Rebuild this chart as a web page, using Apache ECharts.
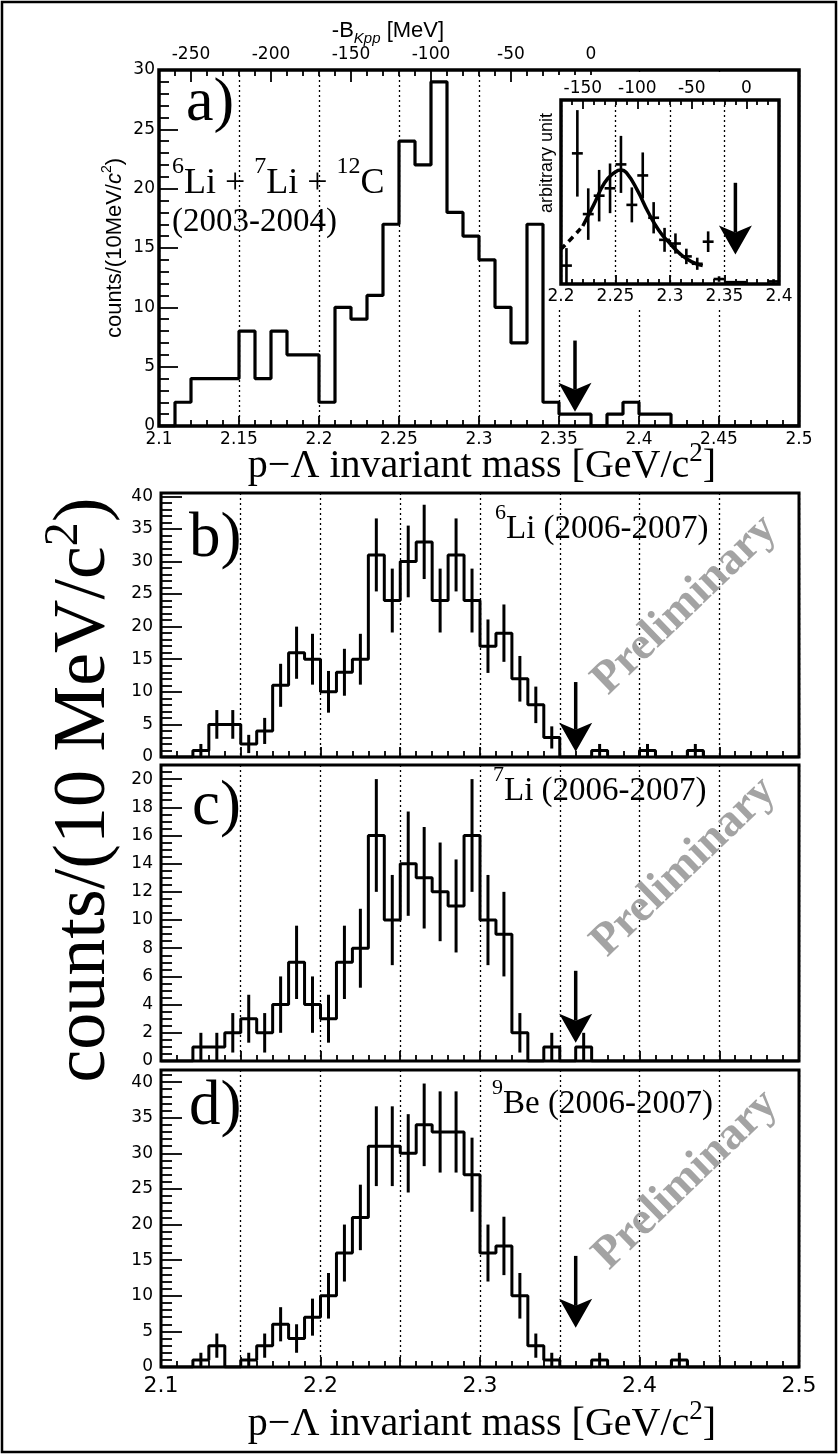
<!DOCTYPE html>
<html>
<head>
<meta charset="utf-8">
<script src="https://cdn.jsdelivr.net/npm/echarts@6/dist/echarts.min.js"></script>
<style>
  html, body { margin: 0; padding: 0; background: #fff; }
  #main { width: 838px; height: 1454px; }
</style>
</head>
<body>
<div id="main"></div>
<script>
// ---------------------------------------------------------------------------
// p-Lambda invariant mass spectra, 10 MeV/c^2 bins from 2.10 to 2.50 GeV/c^2
// ---------------------------------------------------------------------------
const massBins = [2.10, 2.11, 2.12, 2.13, 2.14, 2.15, 2.16, 2.17, 2.18, 2.19,
                  2.20, 2.21, 2.22, 2.23, 2.24, 2.25, 2.26, 2.27, 2.28, 2.29,
                  2.30, 2.31, 2.32, 2.33, 2.34, 2.35, 2.36, 2.37, 2.38, 2.39,
                  2.40, 2.41, 2.42, 2.43, 2.44, 2.45, 2.46, 2.47, 2.48, 2.49];
const BIN_WIDTH = 0.01;
const MASS_MAX = 2.50;
const K_PP_THRESHOLD = 2.370; // m(K-) + 2 m(p), GeV/c^2

// a) 6Li + 7Li + 12C (2003-2004)
const countsA = [0, 2, 4, 4, 4, 8, 4, 8, 6, 6,
                 2, 10, 9, 11, 17, 24, 22, 29, 18, 16,
                 14, 10, 7, 17, 2, 1, 1, 0, 1, 2,
                 1, 1, 0, 0, 0, 0, 0, 0, 0, 0];

// b) 6Li (2006-2007)
const countsB = [0, 0, 1, 5, 5, 2, 4, 11, 16, 15,
                 10, 13, 15, 31, 24, 30, 33, 24, 31, 24,
                 17, 19, 12, 8, 3, 0, 0, 1, 0, 0,
                 1, 0, 0, 1, 0, 0, 0, 0, 0, 0];
const errorsB = [0, 0, 1, 2.2, 2.2, 1.4, 2, 3.3, 4, 3.9,
                 3.2, 3.6, 3.9, 5.6, 4.9, 5.5, 5.7, 4.9, 5.6, 4.9,
                 4.1, 4.4, 3.5, 2.8, 1.7, 0, 0, 1, 0, 0,
                 1, 0, 0, 1, 0, 0, 0, 0, 0, 0];

// c) 7Li (2006-2007)
const countsC = [0, 0, 1, 1, 2, 3, 2, 4, 7, 4,
                 3, 7, 8, 16, 10, 14, 13, 12, 11, 16,
                 10, 9, 2, 0, 1, 0, 1, 0, 0, 0,
                 0, 0, 0, 0, 0, 0, 0, 0, 0, 0];
const errorsC = [0, 0, 1, 1, 1.4, 1.7, 1.4, 2, 2.6, 2,
                 1.7, 2.6, 2.8, 4, 3.2, 3.7, 3.6, 3.5, 3.3, 4,
                 3.2, 3, 1.4, 0, 1, 0, 1, 0, 0, 0,
                 0, 0, 0, 0, 0, 0, 0, 0, 0, 0];

// d) 9Be (2006-2007)
const countsD = [0, 0, 1, 3, 0, 1, 3, 6, 4, 7,
                 10, 16, 21, 31, 31, 30, 34, 33, 33, 27,
                 16, 17, 10, 3, 1, 0, 0, 1, 0, 0,
                 0, 0, 1, 0, 0, 0, 0, 0, 0, 0];
const errorsD = [0, 0, 1, 1.7, 0, 1, 1.7, 2.4, 2, 2.6,
                 3.2, 4, 4.6, 5.6, 5.6, 5.5, 5.8, 5.7, 5.7, 5.2,
                 4, 4.1, 3.2, 1.7, 1, 0, 0, 1, 0, 0,
                 0, 0, 1, 0, 0, 0, 0, 0, 0, 0];

// inset: acceptance-corrected spectrum (arbitrary unit) with fitted peak
const insetMass  = [2.205, 2.215, 2.225, 2.235, 2.245, 2.255, 2.265, 2.275, 2.285,
                    2.295, 2.305, 2.315, 2.325, 2.335, 2.345, 2.355, 2.365, 2.395];
const insetValue = [1.0, 7.1, 3.8, 4.8, 5.2, 6.5, 4.3, 5.9, 3.6,
                    2.4, 2.2, 1.5, 1.1, 2.3, 0.27, 0.1, 0.1, 0.14];
const insetError = [0.95, 2.35, 1.4, 1.4, 1.35, 1.55, 0.95, 1.25, 0.85,
                    0.65, 0.55, 0.42, 0.33, 0.56, 0.15, 0.06, 0.06, 0.12];
const fitMass      = [2.22, 2.23, 2.24, 2.25, 2.255, 2.26, 2.27, 2.28, 2.29, 2.30, 2.31, 2.32, 2.33];
const fitValue     = [3.15, 4.3, 5.5, 6.1, 6.2, 6.05, 5.1, 3.9, 2.9, 2.2, 1.6, 1.2, 1.0];
const fitExtMass   = [2.20, 2.21, 2.22];
const fitExtValue  = [1.9, 2.5, 3.15];

// K-pp binding threshold markers: [mass, arrow top, arrow tip]
const arrowA     = [2.36, 7.2, 1.2];
const arrowInset = [2.36, 5.5, 1.6];
const arrowB     = [2.36, 11.5, 0.8];
const arrowC     = [2.36, 6.4, 1.3];
const arrowD     = [2.36, 15.6, 5.5];

// tick labels
const yTicksA = [0, 5, 10, 15, 20, 25, 30];
const yTicksB = [0, 5, 10, 15, 20, 25, 30, 35, 40];
const yTicksC = [0, 2, 4, 6, 8, 10, 12, 14, 16, 18, 20];
const yTicksD = [0, 5, 10, 15, 20, 25, 30, 35, 40];
const topTicksMeV   = [-250, -200, -150, -100, -50, 0];
const insetTicksMeV = [-150, -100, -50, 0];

// ---------------------------------------------------------------------------
const INK = '#000';
const SERIF = '"Liberation Serif", "Times New Roman", serif';
const SANS = '"Liberation Sans", Arial, sans-serif';
const LABEL_FONT = '"DejaVu Sans", sans-serif';
const tickLine = { color: INK, width: 1.8 };
const noLine = { show: false, onZero: false };

function minorTicks(from, to, step, majors) {
  const out = [];
  const n = Math.round((to - from) / step);
  for (let i = 0; i <= n; i++) {
    const v = Math.round((from + i * step) * 1000) / 1000;
    if (!majors.some(m => Math.abs(m - v) < 1e-9)) out.push(v);
  }
  return out;
}
const toMeV = m => Math.round((m - K_PP_THRESHOLD) * 1000);
const fmtMass = v => String(Math.round(v * 100) / 100);
const labelStyle = (size, margin) => ({ color: INK, fontFamily: LABEL_FONT, fontSize: size, margin: margin });

function massAxis(grid, labelOpts, extra) {
  return Object.assign({
    type: 'value', gridIndex: grid, min: 2.1, max: 2.5, interval: 0.05,
    axisLine: noLine,
    axisTick: { show: true, inside: true, length: 10, lineStyle: tickLine },
    minorTick: { show: true, splitNumber: 5, length: 6, lineStyle: tickLine },
    splitLine: { show: true, lineStyle: { color: INK, width: 1.3, type: [2, 3] } },
    axisLabel: labelOpts
  }, extra || {});
}
function meVAxis(grid, min, max, ticks, len, labelOpts, z) {
  return {
    type: 'value', gridIndex: grid, position: 'top', min: min, max: max, z: z || 0,
    axisLine: noLine, splitLine: { show: false },
    axisTick: { show: true, inside: true, length: len, customValues: ticks, lineStyle: tickLine },
    axisLabel: labelOpts ? Object.assign(labelOpts, { customValues: ticks, formatter: v => String(v) }) : { show: false }
  };
}
function countAxis(grid, max, ticks, size, margin, len) {
  return {
    type: 'value', gridIndex: grid, min: 0, max: max,
    axisLine: noLine, splitLine: { show: false },
    axisTick: { show: true, inside: true, length: len, customValues: ticks, lineStyle: tickLine },
    axisLabel: Object.assign(labelStyle(size, margin), { customValues: ticks, formatter: v => String(v) })
  };
}
function minorAxis(grid, max, ticks, len) {
  return {
    type: 'value', gridIndex: grid, min: 0, max: max, position: 'left',
    axisLine: noLine, splitLine: { show: false },
    axisTick: { show: true, inside: true, length: len, customValues: ticks, lineStyle: tickLine },
    axisLabel: { show: false }
  };
}

function histSeries(xi, yi, counts, width) {
  const data = massBins.map((m, i) => [m, counts[i]]);
  data.push([MASS_MAX, counts[counts.length - 1]]);
  return {
    type: 'line', xAxisIndex: xi, yAxisIndex: yi, data: data, step: 'end',
    symbol: 'none', silent: true, z: 4,
    lineStyle: { color: INK, width: width }
  };
}
function errorSeries(xi, yi, counts, errors) {
  const data = [];
  massBins.forEach((m, i) => { if (errors[i] > 0) data.push([m + BIN_WIDTH / 2, counts[i], errors[i]]); });
  return {
    type: 'custom', xAxisIndex: xi, yAxisIndex: yi, data: data, silent: true, z: 4,
    encode: { x: 0, y: 1 },
    renderItem: (params, api) => {
      const x = api.value(0), v = api.value(1), e = api.value(2);
      const hi = api.coord([x, v + e]);
      const lo = api.coord([x, Math.max(0, v - e)]);
      return { type: 'line', shape: { x1: hi[0], y1: hi[1], x2: lo[0], y2: lo[1] },
               style: { stroke: INK, lineWidth: 3 } };
    }
  };
}
function arrowSeries(xi, yi, arrow, z) {
  return {
    type: 'custom', xAxisIndex: xi, yAxisIndex: yi, data: [arrow], silent: true, z: z || 5,
    encode: { x: 0, y: 1 },
    renderItem: (params, api) => {
      const top = api.coord([api.value(0), api.value(1)]);
      const tip = api.coord([api.value(0), api.value(2)]);
      const w = 33, h = 29, notch = 7;
      return { type: 'group', children: [
        { type: 'line', shape: { x1: top[0], y1: top[1], x2: tip[0], y2: tip[1] - h + notch },
          style: { stroke: INK, lineWidth: 3.5 } },
        { type: 'polygon', shape: { points: [[tip[0], tip[1]], [tip[0] - w / 2, tip[1] - h],
                                              [tip[0], tip[1] - h + notch], [tip[0] + w / 2, tip[1] - h]] },
          style: { fill: INK } }
      ] };
    }
  };
}

// text helpers
function label(x, y, text, rich, opts) {
  return Object.assign({
    type: 'text', x: x, y: y, silent: true, z: 20,
    style: Object.assign({ text: text, rich: rich, fill: INK, align: 'left', verticalAlign: 'middle' }, (opts && opts.style) || {})
  }, (opts && opts.el) || {});
}
const serifRich = (base, sup, lh, supLh) => ({
  t: { fontFamily: SERIF, fontSize: base, lineHeight: lh, fill: INK },
  s: { fontFamily: SERIF, fontSize: sup, lineHeight: supLh, verticalAlign: 'top', fill: INK }
});
function preliminary(x, y) {
  return { type: 'text', x: x, y: y, rotation: 44 * Math.PI / 180, silent: true, z: 1,
    style: { text: 'Preliminary', fontFamily: SERIF, fontSize: 46, fontWeight: 'bold', fill: '#a3a3a3',
             align: 'center', verticalAlign: 'middle' } };
}
const massTitle = '{t|p\u2212\u039B invariant mass [GeV/c}{s|2}{t|]}';

const option = {
  animation: false,
  backgroundColor: '#fff',
  grid: [
    { left: 159, top: 70, width: 640, height: 356, show: true, borderColor: INK, borderWidth: 3.5 },
    { left: 561, top: 100, width: 218, height: 184, show: true, borderColor: INK, borderWidth: 3.5, z: 3 },
    { left: 161, top: 493, width: 638, height: 264, show: true, borderColor: INK, borderWidth: 3 },
    { left: 161, top: 765, width: 638, height: 296, show: true, borderColor: INK, borderWidth: 3 },
    { left: 161, top: 1070, width: 638, height: 297, show: true, borderColor: INK, borderWidth: 3 }
  ],
  xAxis: [
    // 0: panel a mass axis
    massAxis(0, Object.assign(labelStyle(17, 5), { formatter: fmtMass })),
    // 1-2: panel a binding-energy axis on top
    meVAxis(0, toMeV(2.1), toMeV(MASS_MAX), topTicksMeV, 12, labelStyle(17, 7)),
    meVAxis(0, toMeV(2.1), toMeV(MASS_MAX), minorTicks(-260, 0, 10, topTicksMeV), 6, null),
    // 3: inset mass axis
    massAxis(1, Object.assign(labelStyle(17, 4), { formatter: fmtMass }),
             { min: 2.2, max: 2.4, z: 3,
               axisTick: { show: true, inside: true, length: 9, lineStyle: tickLine },
               minorTick: { show: true, splitNumber: 5, length: 5, lineStyle: tickLine } }),
    // 4-5: inset binding-energy axis
    meVAxis(1, toMeV(2.2), toMeV(2.4), insetTicksMeV, 9, labelStyle(17, 3), 3),
    meVAxis(1, toMeV(2.2), toMeV(2.4), minorTicks(-160, 20, 10, insetTicksMeV), 5, null, 3),
    // 6-8: panels b, c, d
    massAxis(2, { show: false }),
    massAxis(3, { show: false }),
    massAxis(4, Object.assign(labelStyle(22, 8), {
      formatter: v => (Math.round(v * 100) % 10 === 0 ? fmtMass(v) : '')
    }))
  ],
  yAxis: [
    // 0: panel a
    {
      type: 'value', gridIndex: 0, min: 0, max: 30, interval: 5,
      axisLine: noLine, splitLine: { show: false },
      axisTick: { show: true, inside: true, length: 19, lineStyle: tickLine },
      minorTick: { show: true, splitNumber: 5, length: 10, lineStyle: tickLine },
      axisLabel: labelStyle(17, 4)
    },
    // 1: inset (arbitrary unit)
    { type: 'value', gridIndex: 1, min: 0, max: 10, show: false, axisLine: noLine },
    // 2-3: panel b
    countAxis(2, 40.5, yTicksB, 17, 8, 21),
    minorAxis(2, 40.5, minorTicks(0, 40, 1, yTicksB), 11),
    // 4-5: panel c
    countAxis(3, 21, yTicksC, 17, 8, 21),
    minorAxis(3, 21, minorTicks(0, 21, 0.5, yTicksC), 11),
    // 6-7: panel d
    countAxis(4, 41.7, yTicksD, 17, 8, 21),
    minorAxis(4, 41.7, minorTicks(0, 41, 1, yTicksD), 11)
  ],
  series: [
    histSeries(0, 0, countsA, 3.2),
    arrowSeries(0, 0, arrowA),

    // inset
    {
      type: 'custom', xAxisIndex: 3, yAxisIndex: 1, silent: true, z: 6,
      data: insetMass.map((m, i) => [m, insetValue[i], insetError[i]]),
      encode: { x: 0, y: 1 },
      renderItem: (params, api) => {
        const x = api.value(0), v = api.value(1), e = api.value(2);
        const hi = api.coord([x, v + e]), lo = api.coord([x, Math.max(0, v - e)]);
        const l = api.coord([x - BIN_WIDTH / 2, v]), r = api.coord([x + BIN_WIDTH / 2, v]);
        return { type: 'group', children: [
          { type: 'line', shape: { x1: hi[0], y1: hi[1], x2: lo[0], y2: lo[1] }, style: { stroke: INK, lineWidth: 2.6 } },
          { type: 'line', shape: { x1: l[0], y1: l[1], x2: r[0], y2: r[1] }, style: { stroke: INK, lineWidth: 2.6 } }
        ] };
      }
    },
    {
      type: 'line', xAxisIndex: 3, yAxisIndex: 1, z: 6, silent: true, symbol: 'none', smooth: 0.5,
      data: fitMass.map((m, i) => [m, fitValue[i]]),
      lineStyle: { color: INK, width: 3.5 }
    },
    {
      type: 'line', xAxisIndex: 3, yAxisIndex: 1, z: 6, silent: true, symbol: 'none', smooth: 0.5,
      data: fitExtMass.map((m, i) => [m, fitExtValue[i]]),
      lineStyle: { color: INK, width: 3.5, type: [6, 5] }
    },
    arrowSeries(3, 1, arrowInset, 7),

    // b
    histSeries(6, 2, countsB, 3),
    errorSeries(6, 2, countsB, errorsB),
    arrowSeries(6, 2, arrowB),
    // c
    histSeries(7, 4, countsC, 3),
    errorSeries(7, 4, countsC, errorsC),
    arrowSeries(7, 4, arrowC),
    // d
    histSeries(8, 6, countsD, 3),
    errorSeries(8, 6, countsD, errorsD),
    arrowSeries(8, 6, arrowD)
  ],
  graphic: [
    // white pad behind the inset
    { type: 'rect', shape: { x: 548, y: 75, width: 244, height: 233 }, style: { fill: '#fff' }, z: 1, silent: true },
    // outer frame
    { type: 'rect', shape: { x: 2, y: 2, width: 834, height: 1450 }, style: { fill: 'none', stroke: INK, lineWidth: 2.5 }, z: 30, silent: true },

    // panel a texts
    label(388, 31, '{t|-B}{s|Kpp}{t| [MeV]}', {
      t: { fontFamily: SANS, fontSize: 22, lineHeight: 30, fill: INK },
      s: { fontFamily: SANS, fontSize: 15, fontStyle: 'italic', lineHeight: 15, verticalAlign: 'bottom', fill: INK }
    }, { style: { align: 'center' } }),
    label(186, 104, '{t|a)}', serifRich(62, 40, 70, 40)),
    label(172, 184, '{s|6}{t|Li + }{s|7}{t|Li + }{s|12}{t|C}', serifRich(36, 24, 58, 26)),
    label(172, 222, '{t|(2003-2004)}', serifRich(33, 20, 40, 20)),
    label(115, 248, '{t|counts/(10MeV/}{i|c}{s|2}{t|)}', {
      t: { fontFamily: SANS, fontSize: 22, lineHeight: 30, fill: INK },
      i: { fontFamily: SANS, fontSize: 22, fontStyle: 'italic', lineHeight: 30, fill: INK },
      s: { fontFamily: SANS, fontSize: 14, lineHeight: 16, verticalAlign: 'top', fill: INK }
    }, { style: { align: 'center' }, el: { rotation: Math.PI / 2 } }),
    label(547, 163, '{t|arbitrary unit}', { t: { fontFamily: SANS, fontSize: 18, lineHeight: 22, fill: INK } },
          { style: { align: 'center' }, el: { rotation: Math.PI / 2 } }),
    label(482, 466, massTitle, serifRich(40, 27, 52, 27), { style: { align: 'center' } }),

    // panels b, c, d
    label(189, 539, '{t|b)}', serifRich(63, 40, 70, 40)),
    label(192, 807, '{t|c)}', serifRich(63, 40, 70, 40)),
    label(189, 1107, '{t|d)}', serifRich(63, 40, 70, 40)),
    label(495, 529, '{s|6}{t|Li (2006-2007)}', serifRich(33, 22, 53, 24)),
    label(493, 791, '{s|7}{t|Li (2006-2007)}', serifRich(33, 22, 53, 24)),
    label(492, 1104, '{s|9}{t|Be (2006-2007)}', serifRich(33, 22, 53, 24)),
    preliminary(685, 605),
    preliminary(684, 867),
    preliminary(686, 1180),

    // shared axis titles
    label(85, 790, '{t|counts/(10 MeV/c}{s|2}{t|)}', serifRich(74, 48, 90, 50),
          { style: { align: 'center' }, el: { rotation: Math.PI / 2 } }),
    label(482, 1424, massTitle, serifRich(40, 27, 52, 27), { style: { align: 'center' } })
  ]
};

const chart = echarts.init(document.getElementById('main'), null, { renderer: 'canvas', width: 838, height: 1454 });
chart.setOption(option);
</script>
</body>
</html>
